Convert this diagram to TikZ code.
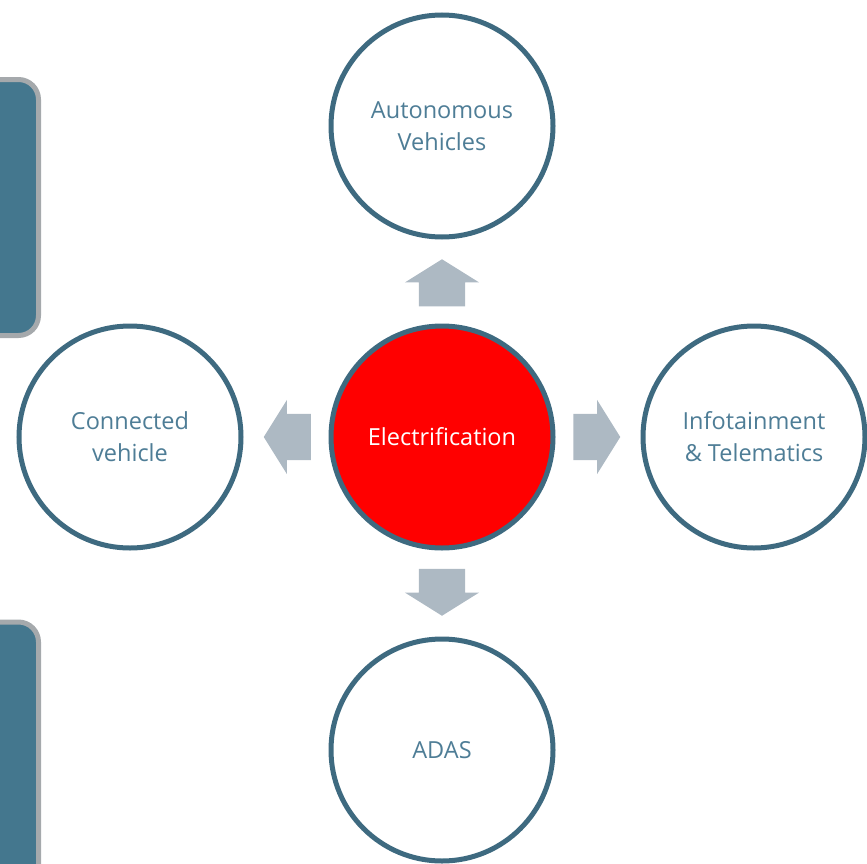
\documentclass[tikz,border=0pt]{standalone}
\usepackage{fontspec}
\setmainfont{Open Sans}
\usepackage{tikz}
\usetikzlibrary{shapes.arrows,calc}
\definecolor{ringblue}{HTML}{3E6A80}
\definecolor{labelblue}{HTML}{4E7D96}
\definecolor{arrowgrey}{HTML}{ADB9C3}
\definecolor{panelteal}{HTML}{44778E}
\definecolor{panelgrey}{HTML}{A5A9AC}
\tikzset{
  topic/.style={circle, draw=ringblue, line width=5bp, fill=white,
    minimum size=222bp, inner sep=0pt, align=center, text=labelblue,
    font=\fontsize{23.5bp}{32bp}\selectfont},
  core/.style={topic, fill=red, text=white},
  push/.style={single arrow, fill=arrowgrey, draw=none, inner xsep=0pt,
    inner ysep=23bp, minimum height=47bp, single arrow head extend=14bp,
    single arrow tip angle=116, xshift=-8.5bp},
  panel/.style={draw=panelgrey, fill=panelteal, line width=5bp, rounded corners=20bp}
}

\begin{document}
\begin{tikzpicture}[x=1bp,y=-1bp]
\useasboundingbox (0,0) rectangle (867,864);
% side panels
\draw[panel] (-40,79.5) rectangle (38.5,335.5);
\draw[panel] (-40,622) rectangle (38.5,920);
% circles
\node[core]  (elec) at (442,437) {Electrification};
\node[topic] (auto) at (442,126) {Autonomous\\Vehicles};
\node[topic] (conn) at (130,437) {Connected\\vehicle};
\node[topic] (info) at (754,437) {Infotainment\\\& Telematics};
\node[topic] (adas) at (442,750) {ADAS};
% arrows
\node[rotate=90, push]  (toauto) at ($(elec)!0.5!(auto)$) {};
\node[rotate=180, push] (toconn) at ($(elec)!0.5!(conn)$) {};
\node[push]             (toinfo) at ($(elec)!0.5!(info)$) {};
\node[rotate=-90, push] (toadas) at ($(elec)!0.5!(adas)$) {};
\end{tikzpicture}
\end{document}
